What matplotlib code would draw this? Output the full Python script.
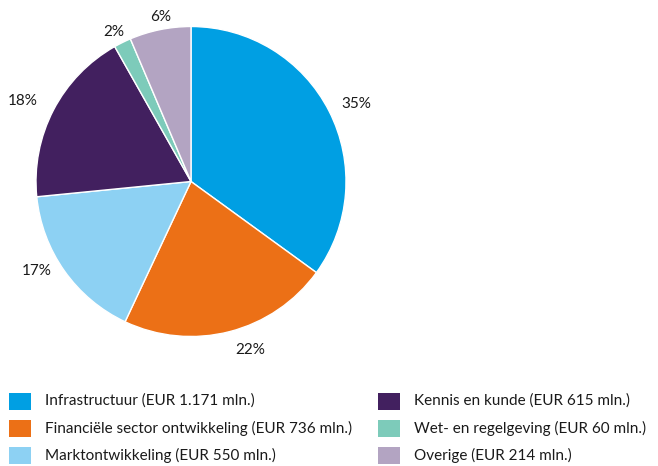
import numpy as np
import matplotlib
matplotlib.use("Agg")
import matplotlib.pyplot as plt
from matplotlib.patches import Rectangle

categories = ["Infrastructuur", "Financiële sector ontwikkeling", "Marktontwikkeling",
              "Kennis en kunde", "Wet- en regelgeving", "Overige"]
values = [1171, 736, 550, 615, 60, 214]
value_labels = ["1.171", "736", "550", "615", "60", "214"]
pct_labels = ["35%", "22%", "17%", "18%", "2%", "6%"]
colors = ["#009FE3", "#EC7016", "#8DD1F3", "#42205F", "#7DCBBA", "#B3A4C2"]

# layout: radial distance factor and angular nudge (deg) for each percentage label
label_dist = [1.18, 1.152, 1.152, 1.205, 1.088, 1.08]
label_nudge = [-2, 5, -5, 2, 1, -1]

plt.rcParams['font.family'] = ['Lato', 'DejaVu Sans']

W, H = 658, 466
fig = plt.figure(figsize=(W / 100, H / 100), dpi=100)

cx, cy, r = 191, 181.5, 155
ax = fig.add_axes([(cx - r) / W, (H - cy - r) / H, 2 * r / W, 2 * r / H])
wedges, _ = ax.pie(values, colors=colors, startangle=90, counterclock=False,
                   wedgeprops=dict(edgecolor="white", linewidth=1.0))
for w, lab, d, n in zip(wedges, pct_labels, label_dist, label_nudge):
    ang = np.deg2rad((w.theta1 + w.theta2) / 2 + n)
    ax.text(d * np.cos(ang), d * np.sin(ang), lab, ha="center", va="center",
            fontsize=11, color="#1a1a1a")
ax.set_xlim(-1, 1)
ax.set_ylim(-1, 1)
ax.set_aspect("equal")
ax.axis("off")

# legend
col_x = [9, 378]
row_y = [401, 428, 455]
for i, (cat, val, col) in enumerate(zip(categories, value_labels, colors)):
    c, rr = divmod(i, 3)
    x0 = col_x[c]
    y0 = row_y[rr]
    fig.patches.append(Rectangle(((x0) / W, (H - y0 - 8.5) / H), 22 / W, 17 / H,
                                 transform=fig.transFigure, facecolor=col, edgecolor="none"))
    fig.text((x0 + 36) / W, (H - y0) / H, f"{cat} (EUR {val} mln.)",
             ha="left", va="center", fontsize=11, color="#1a1a1a")

fig.savefig("out.png", dpi=100)
